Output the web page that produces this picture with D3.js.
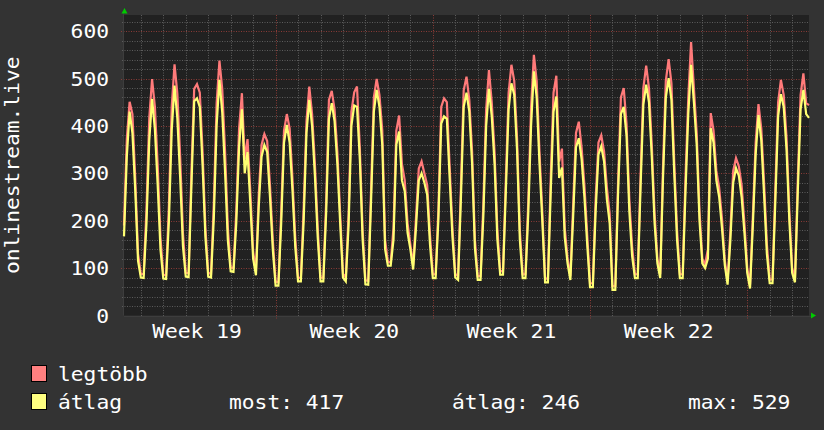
<!DOCTYPE html>
<html>
<head>
<meta charset="utf-8">
<script src="https://cdn.jsdelivr.net/npm/d3@7"></script>
<style>
  html, body { margin: 0; padding: 0; background: #333333; }
  svg { display: block; }
  text { font-family: "DejaVu Sans Mono", monospace; fill: #ffffff; }
</style>
</head>
<body>
<div id="chart"></div>
<script>
// samples every 3 hours, from Mon 8 May 06:00 to Wed 7 Jun 18:00
var startTime = new Date(2023, 4, 8, 6, 0);
var endTime = new Date(2023, 5, 7, 18, 0);
var stepHours = 3;

// "legtöbb" (max) series
var maxValues = [
  190, 372, 451, 425, 290, 130,
  88, 87, 224, 417, 499, 441, 317, 164,
  86, 85, 233, 441, 530, 468, 336, 174,
  90, 89, 300, 478, 488, 470, 345, 185,
  90, 88, 238, 448, 538, 477, 346, 184,
  101, 100, 222, 395, 469, 330, 372, 262,
  135, 93, 255, 360, 383, 368, 275, 160,
  71, 70, 220, 390, 425, 395, 290, 165,
  80, 79, 228, 410, 483, 425, 320, 185,
  80, 79, 240, 455, 474, 435, 345, 215,
  88, 80, 215, 430, 471, 483, 355, 180,
  74, 73, 265, 460, 499, 465, 390, 160,
  113, 112, 185, 390, 422, 320, 285, 195,
  150, 105, 205, 310, 325, 300, 275, 170,
  87, 87, 225, 440, 458, 450, 315, 185,
  88, 83, 270, 475, 504, 455, 345, 160,
  83, 83, 235, 435, 518, 450, 345, 180,
  94, 93, 285, 470, 529, 495, 375, 180,
  87, 87, 240, 440, 550, 495, 345, 220,
  78, 78, 290, 470, 506, 325, 352, 185,
  120, 83, 235, 385, 409, 355, 275, 170,
  68, 68, 245, 365, 380, 346, 270, 215,
  62, 62, 285, 460, 480, 405, 245, 145,
  87, 87, 295, 480, 527, 480, 360, 215,
  120, 87, 315, 495, 541, 490, 325, 180,
  87, 87, 290, 460, 577, 480, 385, 220,
  120, 108, 140, 427, 390, 305, 270, 205,
  117, 73, 180, 305, 332, 315, 275, 195,
  100, 65, 210, 365, 446, 395, 280, 150,
  76, 76, 265, 450, 497, 465, 375, 220,
  100, 78, 285, 465, 511, 448, 444
];

// "átlag" (average) series
var avgValues = [
  167, 335, 430, 385, 265, 115,
  80, 79, 193, 370, 457, 393, 275, 139,
  78, 77, 200, 391, 485, 416, 292, 146,
  82, 81, 270, 452, 458, 440, 315, 165,
  82, 80, 207, 402, 497, 428, 303, 158,
  93, 92, 196, 356, 435, 300, 345, 235,
  120, 85, 230, 335, 360, 345, 250, 140,
  63, 63, 195, 365, 402, 365, 265, 145,
  72, 72, 200, 385, 455, 400, 295, 165,
  72, 72, 215, 415, 448, 410, 320, 195,
  80, 72, 190, 400, 443, 440, 330, 160,
  66, 65, 240, 430, 476, 440, 360, 140,
  105, 105, 160, 360, 388, 285, 262, 175,
  140, 97, 185, 285, 300, 280, 255, 150,
  79, 79, 205, 405, 420, 415, 290, 165,
  80, 75, 245, 440, 470, 430, 320, 142,
  75, 75, 210, 400, 478, 420, 320, 160,
  86, 86, 260, 435, 490, 466, 350, 160,
  79, 79, 215, 400, 515, 460, 320, 200,
  70, 70, 260, 430, 462, 290, 312, 165,
  110, 75, 210, 355, 374, 330, 250, 150,
  60, 60, 220, 340, 357, 325, 245, 195,
  54, 54, 260, 425, 440, 380, 220, 125,
  79, 79, 270, 445, 487, 450, 335, 195,
  110, 79, 290, 460, 501, 455, 300, 160,
  79, 79, 260, 425, 529, 450, 360, 200,
  110, 100, 120, 395, 365, 285, 250, 185,
  107, 65, 160, 280, 311, 295, 250, 175,
  90, 57, 190, 340, 423, 370, 255, 130,
  68, 68, 240, 420, 467, 440, 350, 200,
  90, 70, 260, 435, 476, 425, 417
];

var yTicks = [0, 100, 200, 300, 400, 500, 600];
var weekLabels = ["Week 19", "Week 20", "Week 21", "Week 22"];
var weekStarts = [new Date(2023, 4, 8), new Date(2023, 4, 15), new Date(2023, 4, 22), new Date(2023, 4, 29)];
var legendNames = ["legtöbb", "átlag"];
var legendColors = ["#ff8080", "#ffff80"];
var statLabels = ["most: 417", "átlag: 246", "max: 529"];

var width = 824, height = 430;
var plotL = 124, plotR = 809, plotT = 15, plotB = 315.5;

var svg = d3.select("#chart").append("svg")
  .attr("width", width)
  .attr("height", height);

svg.append("rect").attr("width", width).attr("height", height).attr("fill", "#333333");
svg.append("rect")
  .attr("x", plotL).attr("y", plotT)
  .attr("width", plotR - plotL).attr("height", plotB - plotT)
  .attr("fill", "#212121");

var x = d3.scaleTime().domain([startTime, endTime]).range([plotL, plotR]);
var y = d3.scaleLinear().domain([0, 634]).range([plotB, plotT]);

function px(v) { return Math.round(v) + 0.5; }

// minor grid
var g = svg.append("g");
var days = d3.timeDay.range(startTime, endTime);
var mondays = d3.timeMonday.range(startTime, endTime);
days.forEach(function(d) {
  if (d.getDay() == 1) return;
  var xx = px(x(d));
  g.append("line").attr("x1", xx).attr("x2", xx).attr("y1", plotT).attr("y2", plotB + 2)
    .attr("stroke", "#5c5c5c").attr("stroke-dasharray", "1,1.5");
});
d3.range(20, 634, 20).forEach(function(v) {
  if (v % 100 == 0) return;
  var yy = px(y(v));
  g.append("line").attr("x1", plotL - 2).attr("x2", plotR).attr("y1", yy).attr("y2", yy)
    .attr("stroke", "#5c5c5c").attr("stroke-dasharray", "1,1.5");
});
// major grid
mondays.forEach(function(d) {
  var xx = px(x(d));
  g.append("line").attr("x1", xx).attr("x2", xx).attr("y1", plotT).attr("y2", plotB + 3)
    .attr("stroke", "#8a3b36").attr("stroke-dasharray", "1,1.5");
});
yTicks.forEach(function(v) {
  if (v == 0) return;
  var yy = px(y(v));
  g.append("line").attr("x1", plotL - 3).attr("x2", plotR).attr("y1", yy).attr("y2", yy)
    .attr("stroke", "#8a3b36").attr("stroke-dasharray", "1,1.5");
});

// axes
svg.append("line").attr("x1", plotL).attr("x2", 812).attr("y1", px(plotB)).attr("y2", px(plotB))
  .attr("stroke", "#3d3d3d");
svg.append("line").attr("x1", plotL - 0.5).attr("x2", plotL - 0.5).attr("y1", plotB).attr("y2", 12)
  .attr("stroke", "#3d3d3d");
svg.append("path").attr("d", "M121.5,13.5L127.5,13.5L124.5,8Z").attr("fill", "#00cc00");
svg.append("path").attr("d", "M811,312.5L811,318.5L816,315.5Z").attr("fill", "#00cc00");

// series
function toPoints(values) {
  return values.map(function(v, i) {
    return { t: new Date(startTime.getTime() + i * stepHours * 3600e3), v: v };
  });
}
var line = d3.line().x(function(d) { return x(d.t); }).y(function(d) { return y(d.v); });

svg.append("path").datum(toPoints(maxValues))
  .attr("d", line).attr("fill", "none")
  .attr("stroke", "#ff7a7a").attr("stroke-width", 2.2);
svg.append("path").datum(toPoints(avgValues))
  .attr("d", line).attr("fill", "none")
  .attr("stroke", "#ffff73").attr("stroke-width", 2.2);

// texts are a little wider than the font
function label(tx, ty, txt, anchor, rot) {
  return svg.append("text")
    .attr("transform", "translate(" + tx + "," + ty + ")" + (rot ? " rotate(" + rot + ")" : "") + " scale(1.12,1)")
    .attr("text-anchor", anchor)
    .attr("font-size", "19px")
    .text(txt);
}

yTicks.forEach(function(v) {
  label(109, y(v) + 7, v, "end");
});
weekLabels.forEach(function(w, i) {
  var mid = new Date(weekStarts[i].getTime() + 3.5 * 86400e3);
  label(x(mid), 338, w, "middle");
});
label(19, (plotT + plotB) / 2, "onlinestream.live", "middle", -90);

// legend
legendNames.forEach(function(n, i) {
  svg.append("rect")
    .attr("x", 31.5).attr("y", 365.5 + i * 28)
    .attr("width", 15).attr("height", 16)
    .attr("fill", legendColors[i]).attr("stroke", "#000");
  label(58, 381 + i * 28, n, "start");
});
var statX = [229, 452, 688];
statLabels.forEach(function(s, i) {
  label(statX[i], 409, s, "start");
});
</script>
</body>
</html>
